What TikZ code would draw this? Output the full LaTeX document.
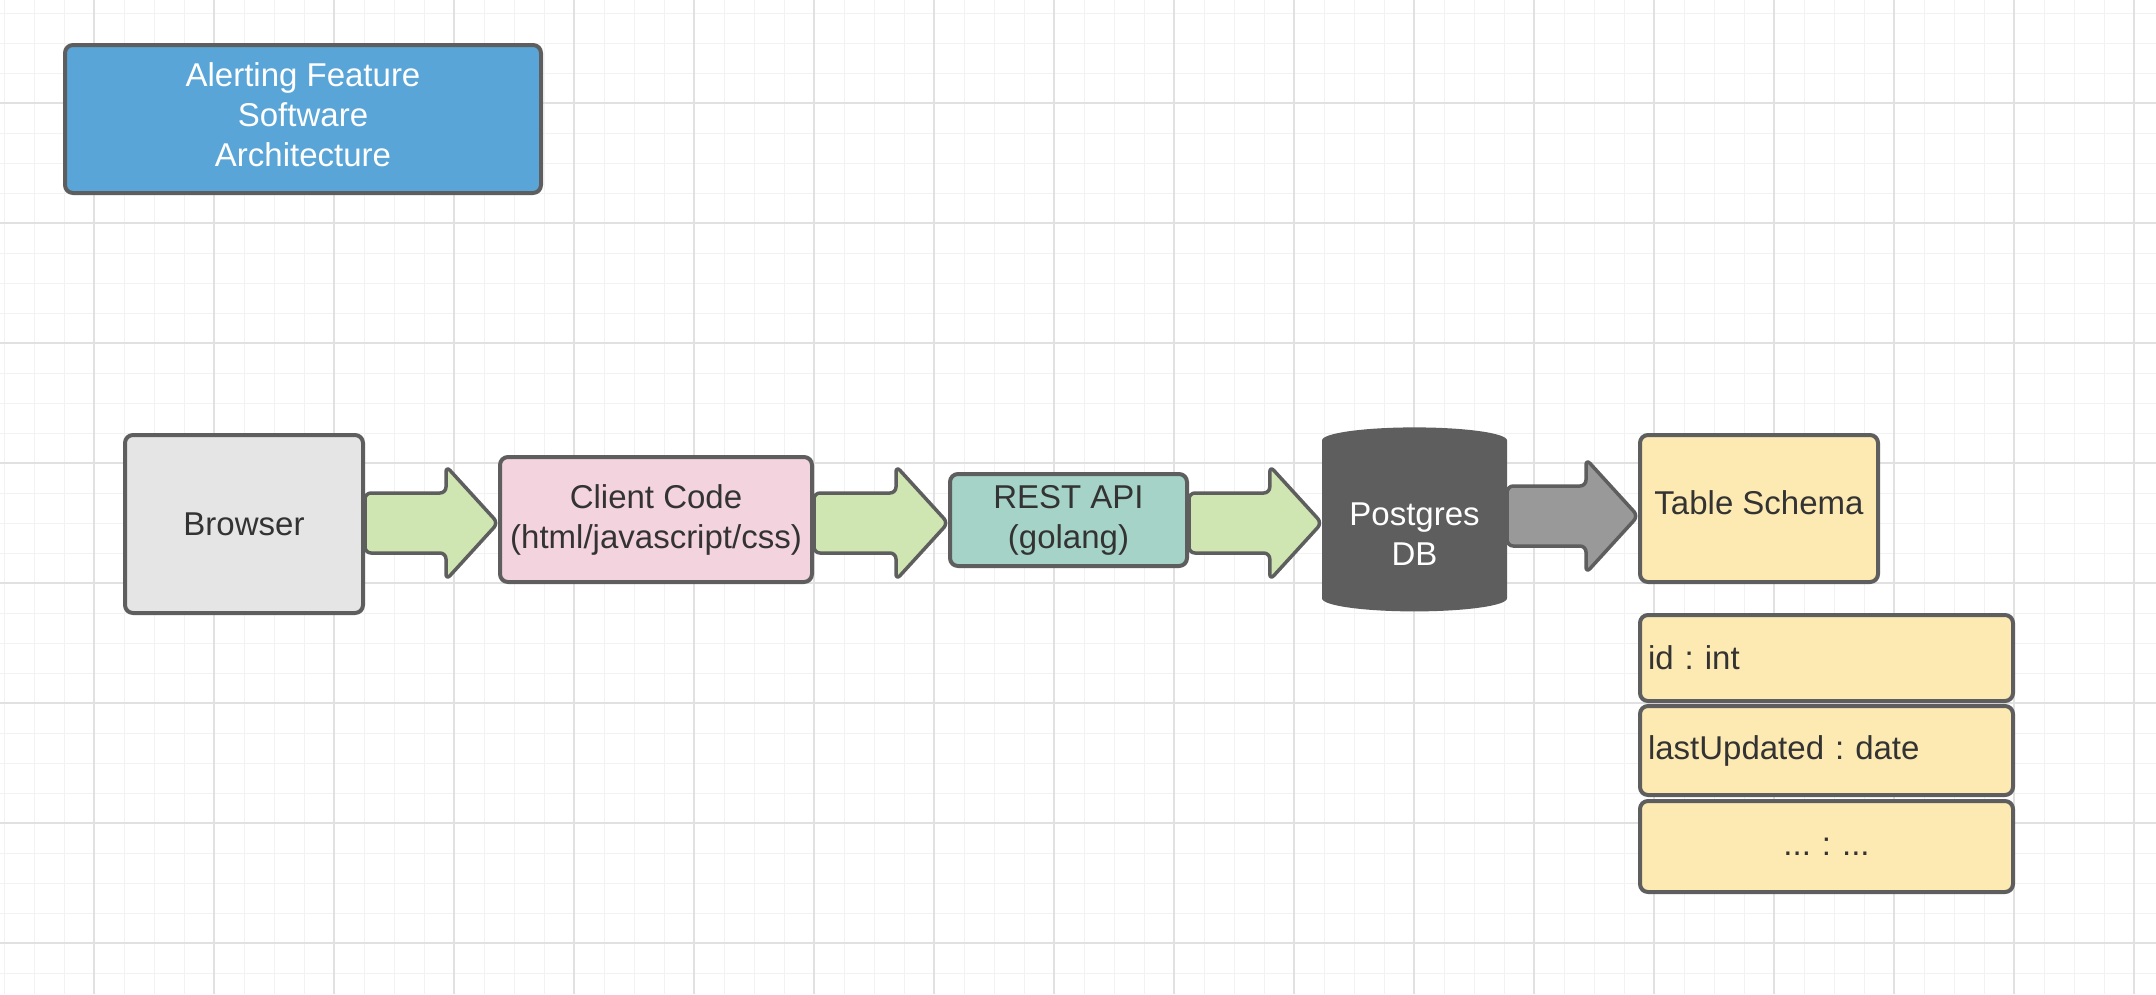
\documentclass[tikz,border=0pt]{standalone}
\usepackage{fontspec}
\setmainfont{Liberation Sans}
\usetikzlibrary{calc,shapes.geometric}
\definecolor{linegray}{RGB}{94,94,94}
\definecolor{textgray}{RGB}{51,51,51}
\definecolor{titleblue}{RGB}{89,165,216}
\definecolor{browsergray}{RGB}{229,229,229}
\definecolor{clientpink}{RGB}{243,211,222}
\definecolor{restteal}{RGB}{166,211,199}
\definecolor{arrowgreen}{RGB}{207,230,179}
\definecolor{arrowgray}{RGB}{153,153,153}
\definecolor{schemayellow}{RGB}{253,234,178}
\definecolor{gridminor}{RGB}{242,242,242}
\definecolor{gridmajor}{RGB}{225,225,225}
\def\flowarrow[#1](#2)(#3)(#4){\draw[#1] ($(#2.east |- #4)+(0,-30)$) -- ($(#3.west |- #4)+(-52,-30)$) -- ($(#3.west |- #4)+(-52,-57)$) -- (#3.west |- #4) -- ($(#3.west |- #4)+(-52,57)$) -- ($(#3.west |- #4)+(-52,30)$) -- ($(#2.east |- #4)+(0,30)$) -- cycle;}

\begin{document}
\begin{tikzpicture}[x=1pt, y=-1pt, line join=round,
	box/.style={draw=linegray, line width=4pt, rounded corners=8pt, text=textgray, font=\fontsize{33}{40}\selectfont\frenchspacing, align=center, inner sep=0pt},
	field/.style={box, fill=schemayellow, minimum width=373pt, text width=357pt, align=left},
	flow/.style={draw=linegray, line width=3.5pt, rounded corners=6pt, fill=arrowgreen}]
			%%%%% START %%%%%
			
			\useasboundingbox[fill=white] (0,0) rectangle (2156,994);
			
			\foreach \x in {4,34,...,2156} \draw[gridminor, line width=1pt] (\x,0) -- (\x,994);
			\foreach \y in {13,43,...,994} \draw[gridminor, line width=1pt] (0,\y) -- (2156,\y);
			\foreach \x in {94,214,...,2156} \draw[gridmajor, line width=1.3pt] (\x,0) -- (\x,994);
			\foreach \y in {103,223,...,994} \draw[gridmajor, line width=1.3pt] (0,\y) -- (2156,\y);
			
			\node[box, fill=titleblue, text=white, minimum width=476pt, minimum height=148pt] (title) at (303,119) {Alerting Feature\\Software\\Architecture\rule[-8pt]{0pt}{8pt}};
			
			\node[box, fill=browsergray, minimum width=238pt, minimum height=178pt] (browser) at (244,524) {Browser};
			\node[box, fill=clientpink, minimum width=312pt, minimum height=125pt] (client) at (656,519.5) {Client Code\\(html/javascript/css)};
			\node[box, fill=restteal, minimum width=237pt, minimum height=92pt] (rest) at (1068.5,520) {REST API\\(golang)};
			\node[cylinder, shape border rotate=90, aspect=0.2, fill=linegray, text=white, font=\fontsize{33}{40}\selectfont, align=center, inner sep=0pt, minimum width=185pt, minimum height=184pt] (db) at (1414.5,526) {\rule{0pt}{38pt}Postgres\\DB};
			\node[box, fill=schemayellow, minimum width=238pt, minimum height=147pt] (schema) at (1759,508.5) {Table Schema\rule[-11pt]{0pt}{11pt}};
			
			\node[field, minimum height=86pt] (fid) at (1826.5,658) {id : int};
			\node[field, minimum height=89pt] (fupdated) at (1826.5,750.5) {lastUpdated : date};
			\node[field, minimum height=91pt, align=center] (fmore) at (1826.5,846.5) {... : ...};
			
			\coordinate (row) at (0,523);
			\coordinate (dbrow) at (0,516);
			
			\flowarrow[flow](browser)(client)(row)
			\flowarrow[flow](client)(rest)(row)
			\flowarrow[flow](rest)(db)(row)
			\flowarrow[flow, fill=arrowgray](db)(schema)(dbrow)
			
			%%%%% END %%%%%
		\end{tikzpicture}
\end{document}
